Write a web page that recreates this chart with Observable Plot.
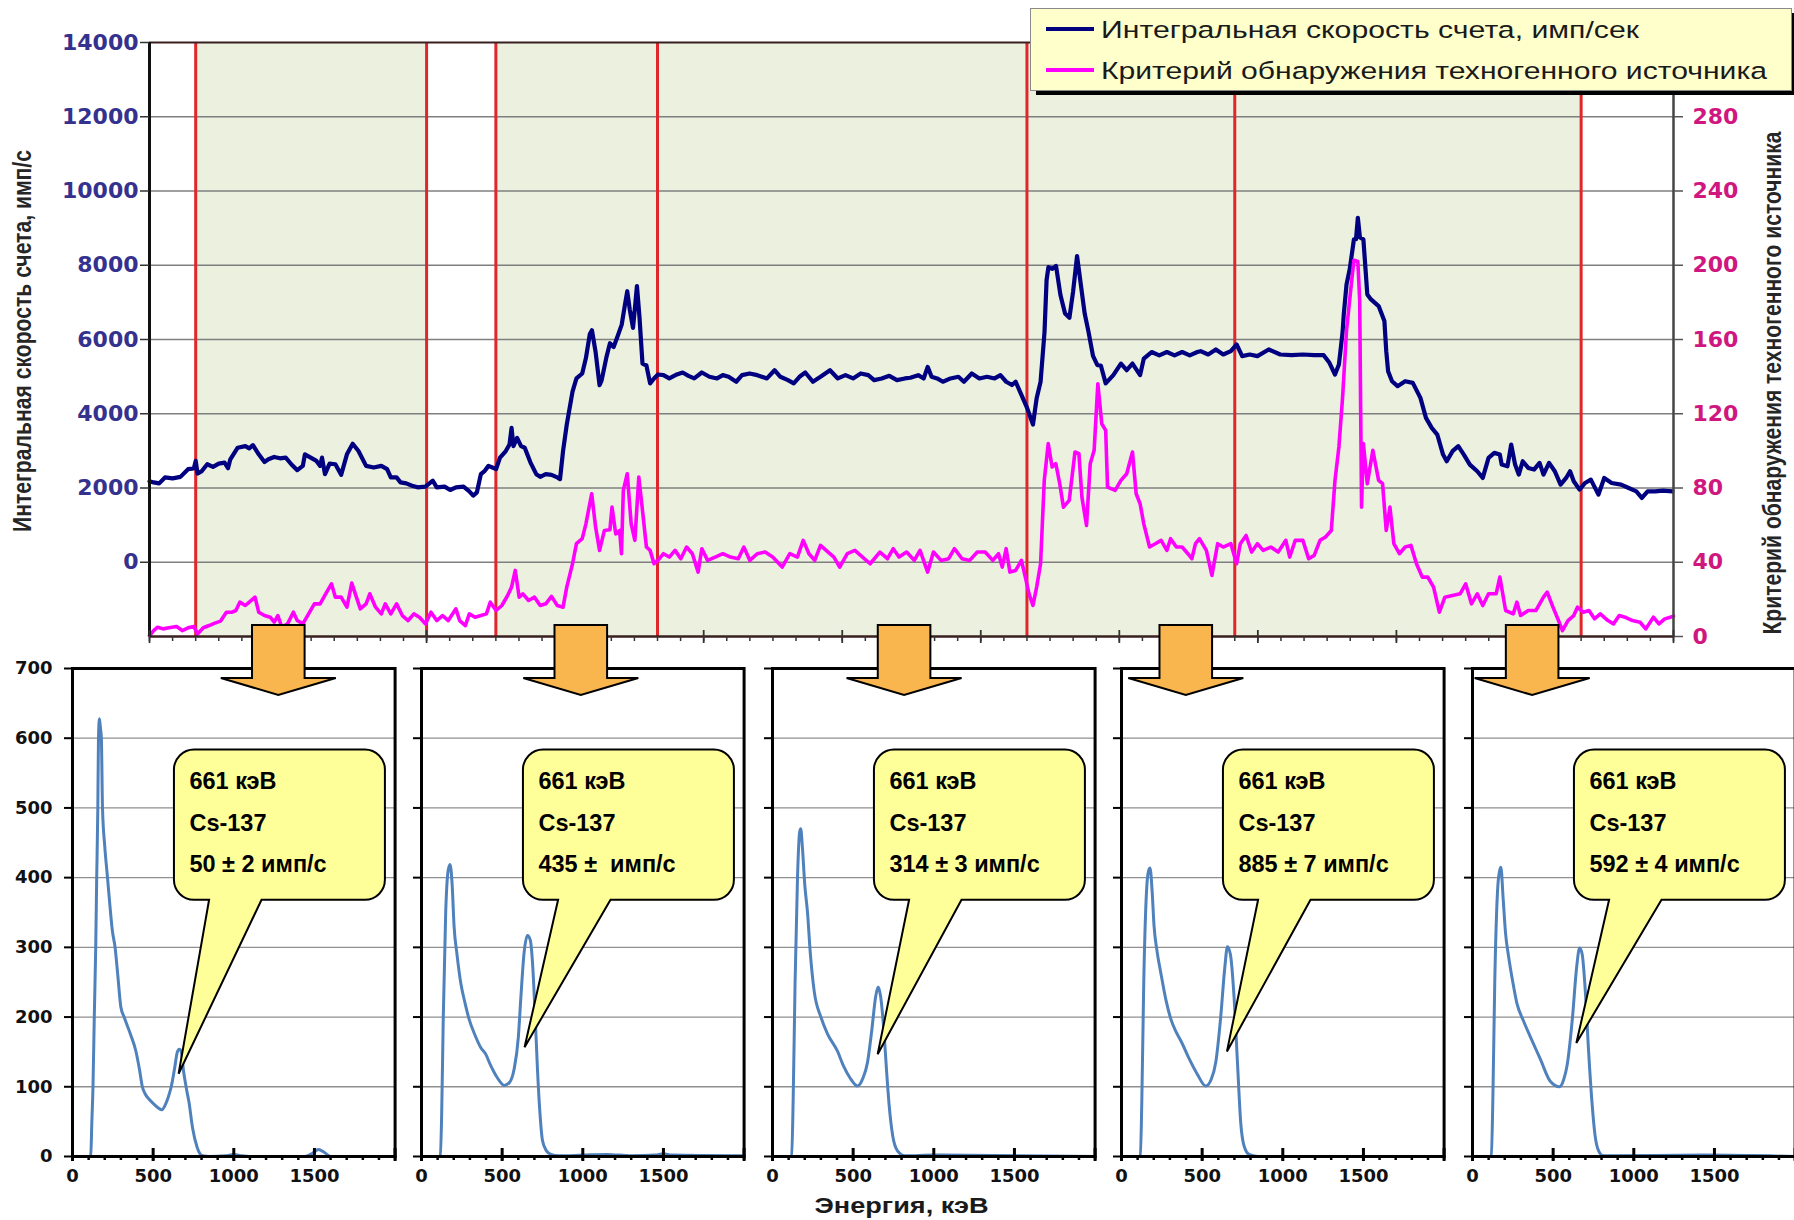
<!DOCTYPE html>
<html>
<head>
<meta charset="utf-8">
<script src="https://cdn.jsdelivr.net/npm/d3@7"></script>
<script src="https://cdn.jsdelivr.net/npm/@observablehq/plot@0.6"></script>
<style>
  html, body { margin: 0; padding: 0; background: #fff; }
  #chart { position: relative; width: 1794px; height: 1220px; overflow: hidden; }
  #chart > svg { position: absolute; }
</style>
</head>
<body>
<div id="chart"></div>
<script>
// ---- Survey time series: integral count rate (left axis) and detection criterion (right axis) ----
// [time, count rate, counts/s]
const countRate = [
[0,2180],[1.8,2150],[4.2,2125],[6.7,2285],[10,2258],[13.4,2300],[16.7,2507],[19.2,2525],[20,2730],[20.8,2390],[22.5,2445],[25,2640],[27.5,2570],[30,2658],[32.5,2684],[34,2533],[35,2773],[38.2,3085],[41.5,3129],[43.2,3067],[44.8,3155],[47.3,2907],[49.8,2702],[51.5,2773],[54,2836],[56.5,2800],[59,2818],[61.4,2640],[64,2480],[66.4,2596],[67.3,2907],[69.8,2818],[72.3,2729],[73.9,2596],[74.7,2818],[76,2373],[78,2658],[80.5,2640],[83,2355],[85.5,2907],[88,3191],[90.5,2996],[93.8,2596],[97.1,2551],[100.4,2596],[102.9,2507],[104.5,2285],[107,2285],[108.7,2151],[111.2,2125],[113.7,2062],[116.1,2018],[119.5,2036],[122.7,2196],[124.4,2018],[127.8,2036],[130.2,1947],[132.7,2018],[136,2036],[138.5,1911],[140.2,1796],[141.8,1884],[143.5,2373],[145.2,2462],[146.8,2596],[148.5,2551],[150.1,2507],[151.8,2818],[154.3,2996],[155.9,3173],[156.8,3618],[157.6,3129],[159.2,3351],[160.9,3129],[162.5,3085],[165,2684],[167.5,2373],[169.2,2302],[171.6,2373],[174.1,2355],[176.6,2285],[177.8,2240],[179.1,2996],[180.7,3707],[183.2,4596],[184.9,4951],[187.4,5085],[189,5500],[190.7,6150],[191.6,6250],[193.2,5660],[194.9,4770],[195.8,4900],[197.8,5500],[199.4,5900],[201,5800],[202.8,6100],[204.5,6400],[205.8,6900],[206.9,7300],[208,6800],[209.4,6314],[210.3,6900],[211.1,7440],[212.2,6600],[213.5,5351],[215.2,5300],[216.8,4818],[218.5,4951],[220.2,5058],[222.6,5040],[225.1,4951],[228.4,5058],[230.9,5111],[233.4,5022],[235.9,4951],[239.2,5111],[242.5,4996],[245.8,4951],[248.3,5040],[250.8,4996],[254.1,4862],[256.6,5040],[259.9,5085],[263.2,5040],[267.4,4951],[270.7,5173],[273.2,4996],[276.5,4907],[279,4818],[281.5,4996],[284,5111],[287.3,4862],[290.6,4996],[294.7,5173],[298.1,4951],[301.4,5040],[304.7,4951],[308,5085],[311.3,5040],[313.8,4907],[317.1,4951],[320.4,5022],[323.7,4907],[327.1,4951],[329.5,4969],[332.9,5040],[335.3,4951],[337,5262],[338.7,4996],[341.1,4951],[343.6,4862],[346.9,4951],[350.3,4996],[352.7,4862],[356.1,5085],[359.4,4951],[362.7,4996],[366,4951],[368.5,5040],[371,4862],[373.5,4773],[375.1,4862],[377.6,4507],[380.1,4151],[382.6,3707],[384.2,4418],[385.9,4862],[387.6,6200],[388.5,7600],[389.3,7950],[391,7900],[392.6,7980],[394.5,7200],[396.5,6700],[398.4,6584],[400,7300],[401.7,8247],[403.5,7400],[405,6700],[406.6,6226],[408.6,5560],[410.5,5307],[412,5300],[414.1,4818],[417.4,5040],[420.7,5351],[423.2,5173],[425.7,5351],[429,5040],[430.6,5484],[434,5662],[437.3,5573],[440.6,5662],[443.9,5573],[447.2,5662],[450.5,5573],[453.8,5662],[455.2,5686],[458.5,5596],[461.8,5731],[465,5596],[468.3,5686],[470.8,5866],[473.2,5551],[476.5,5596],[479.8,5551],[484.7,5731],[489.7,5596],[494.6,5578],[499.5,5596],[504.4,5578],[508.5,5578],[511,5371],[513.4,5056],[515.1,5326],[516.7,6200],[517.2,6677],[518.4,7484],[519.8,7900],[521.6,8697],[522.5,8700],[523.3,9279],[524.2,8750],[525.7,8697],[527.4,7214],[529,7080],[532.3,6900],[534.8,6496],[535.6,5686],[536.4,5147],[538.1,4877],[540.5,4743],[543.8,4877],[547.1,4832],[550.4,4428],[552.8,3889],[555.3,3619],[557.7,3440],[560.2,2901],[561.8,2721],[564.3,2991],[566.8,3126],[569.2,2901],[571.8,2631],[575,2451],[577.4,2271],[579.9,2811],[582.4,2946],[584.8,2901],[585.6,2631],[588.1,2586],[589.7,3171],[591.4,2631],[593,2361],[594.7,2721],[597.1,2541],[599.6,2496],[602,2676],[603.7,2361],[606.1,2676],[608.6,2451],[611.1,2091],[613.5,2271],[615.2,2451],[616.8,2181],[619.3,1956],[621.7,2136],[624.2,2226],[627.5,1822],[630,2271],[633.2,2136],[637.3,2091],[640.6,2001],[643.9,1911],[646.3,1731],[648.8,1911],[652.1,1911],[655.4,1929],[659.5,1911]
];

// [time, detection criterion]
const criterion = [
[0,0.5],[1.8,3.2],[3.5,5],[5.9,4.1],[8.4,4.7],[11.7,5.4],[14.2,3.2],[16.7,4.7],[19.2,5.4],[20.8,1.4],[23.3,4.7],[25.8,5.9],[28.3,7.2],[30.8,8.3],[33.3,13.1],[35.8,13.1],[37.4,14],[39.1,18.5],[41.5,16.7],[43.2,18.5],[45.7,21.2],[47.3,13.1],[49.8,11.3],[52.3,10.4],[54,7.7],[55.6,11.3],[57.3,5],[59.8,6.8],[62.3,13.1],[64,8.6],[66.4,6.8],[68.9,12.2],[71.4,17.6],[73.9,17.6],[76.3,23],[78.8,28.4],[80.5,21.2],[83,21.2],[85.5,15.8],[87.6,28.8],[89.6,21.2],[91.3,14.9],[93.8,17.6],[95.4,23],[97.9,15.8],[100.4,12.2],[102.1,17.6],[104.5,12.2],[107,17.6],[109.5,11.3],[112,8.6],[114.5,12.2],[116.9,10.4],[119.5,6.8],[121.9,13.1],[124.4,8.6],[126.9,11.3],[129.4,8.6],[132.7,14.9],[134.3,8.6],[136.8,5.9],[138.5,12.2],[141,10.4],[143.5,11.3],[145.9,12.2],[147.6,18.5],[150.1,14],[152.6,16.7],[155.1,22.1],[156.8,26.6],[158.4,35.6],[160.1,21.2],[161.7,23],[164.2,19.4],[166.7,21.2],[169.2,16.7],[171.6,17.6],[174.1,21.6],[176.6,16.7],[179.1,15.8],[180.7,26.6],[183.2,39.2],[184.9,50],[187.4,52.7],[189,60.7],[191.5,76.9],[193.2,58.9],[194.9,46.4],[197,57.1],[199.4,57.5],[200.3,69.7],[201.9,55.3],[203.6,57.1],[204.4,44.6],[205.2,78.7],[206.9,87.7],[208.6,60.7],[210.2,51.8],[211.9,85.9],[213.5,67.9],[215.2,48.2],[216.8,46.4],[218.5,39.2],[220.2,41],[222.6,44.6],[225.1,42.8],[227.6,46.4],[230.1,41.9],[232.6,48.2],[235.1,44.6],[237.6,34.7],[239.2,47.3],[241.7,41],[245,42.8],[248.3,44.6],[251.6,42.8],[255,41.9],[257.4,48.2],[260,41],[263.2,44.6],[266.6,45.5],[269.9,42.8],[274,37.4],[277.3,44.6],[280.6,42.8],[283.1,51.8],[285.6,44.6],[288.1,41],[290.6,49.1],[293.9,45.5],[296.4,42.8],[298.9,37.4],[302.2,44.6],[305.5,46.4],[308.8,42.8],[312.1,39.2],[316.3,45.5],[319.6,41.9],[322.1,47.3],[324.6,42.8],[327.9,45.5],[331.2,41],[333.7,46.4],[337,34.7],[339.5,45.5],[342.8,41],[346.1,41.9],[348.6,47.3],[351.9,41.9],[355.2,41],[358.5,45.5],[361.9,45.5],[365.2,41],[367.7,44.6],[369.3,37.4],[371,47.3],[372.6,34.7],[375.1,35.6],[377.6,41],[379.3,32],[380.9,23],[382.6,16.7],[384.2,26.6],[385.9,39.2],[387.5,84.1],[389.2,103.9],[390.9,91.3],[392.5,93.1],[394.2,82.3],[395.8,69.7],[398.3,73.3],[400.8,99.4],[402.5,98.5],[403.8,75.1],[405.8,59.8],[407.4,93.1],[409.1,100.3],[410.7,136.2],[412.4,114.6],[414.1,111],[414.9,80.5],[418.2,78.7],[420.7,84.1],[423.2,87.7],[425.7,99.4],[427.3,76.9],[429,71.5],[430.6,60.7],[433.1,48.2],[435.6,50],[438.1,51.8],[440.6,46.4],[442.2,52.7],[444.7,48.2],[447.2,48.2],[449.7,44.6],[451.4,41.9],[453,50],[454.7,52.7],[457.7,46.4],[460.1,32.9],[462.6,50],[465,48.2],[468.3,50],[470.8,39.2],[472.4,50],[474.9,54.4],[477.3,45.5],[479.8,50],[482.3,46.4],[485.6,48.2],[488.8,45.5],[492.1,51.8],[493.8,42.8],[496.2,51.8],[499.5,51.8],[502,41.9],[504.4,43.7],[506.9,51.8],[509.3,53.6],[511.8,57.1],[513.4,84.1],[515.1,102.1],[516.7,129],[518.4,165],[520.8,193.7],[521.6,202.7],[523.3,202],[524.1,181],[524.9,69.7],[525.7,103.9],[527.4,82.3],[529.8,100.3],[532.3,84.1],[534,82.3],[535.6,57.1],[537.2,69.7],[538.9,50],[541.3,44.6],[543.8,48.2],[546.3,49.1],[548.7,39.2],[551.2,32],[553.6,32],[556.1,26.6],[558.6,13.1],[561,21.2],[564.3,22.1],[567.6,23],[570,28.4],[572.5,17.6],[575,23],[577.4,16.7],[579.9,23],[583.2,23],[584.8,32],[587.3,14],[590.6,12.2],[592.2,18.5],[593.8,11.3],[597.1,14],[600.4,14],[603.7,21.2],[605.3,23.9],[607.8,15.8],[610.2,8.6],[611.9,3.2],[614.3,8.6],[616.8,11.3],[618.4,15.8],[620.9,13.1],[623.4,14],[625.8,9.5],[628.3,12.2],[631.6,8.6],[634,6.8],[636.5,11.3],[639,10.4],[642.2,8.6],[645.5,7.7],[648,4.1],[651.3,10.4],[653.7,6.8],[656.2,9.5],[658.6,10.4],[660,11]
];

// Survey segments (shaded), segment boundaries and the spectra taken within them
const shadedZones = [[20, 120], [150, 620]];
const segmentBounds = [20, 120, 150, 220, 380, 470, 620];
const spectrumTimes = [56, 187, 327, 449, 599];
const leftTicks = d3.range(0, 14001, 2000);
const rightTicks = d3.range(0, 281, 40);

// ---- Gamma spectra [energy keV, counts] ----
const spectrum1 = [[0,0],[60,0],[100,0],[113,1],[120,50],[127,100],[135,200],[144,300],[150,400],[157,500],[161,600],[167,628],[173,615],[179,600],[186,500],[200,445],[217,400],[232,360],[247,324],[264,300],[280,262],[300,214],[320,200],[360,175],[392,152],[415,125],[433,100],[450,90],[475,82],[505,75],[530,70],[554,67],[575,74],[595,86],[612,100],[632,125],[650,150],[662,154],[672,152],[690,120],[708,95],[722,78],[745,40],[773,13],[806,1],[850,0],[950,1],[1000,3],[1050,1],[1100,0],[1440,0],[1490,5],[1525,10],[1560,6],[1600,0],[2000,0]];
const spectrum2 = [[0,0],[100,0],[117,1],[125,60],[135,200],[150,350],[165,410],[177,419],[190,390],[202,330],[220,290],[244,248],[270,220],[295,197],[330,175],[368,156],[395,148],[430,130],[470,113],[512,102],[545,106],[574,125],[600,170],[616,228],[635,290],[657,317],[675,310],[688,279],[705,200],[719,125],[735,60],[750,23],[775,8],[802,3],[850,1],[1000,2],[1150,3],[1300,1],[1450,2],[1500,4],[1550,2],[2000,1]];
const spectrum3 = [[0,0],[100,0],[119,1],[128,80],[140,250],[155,400],[168,465],[175,470],[185,445],[200,390],[217,350],[235,290],[258,238],[300,200],[341,176],[403,151],[440,130],[480,113],[527,101],[560,112],[589,135],[615,180],[640,230],[655,243],[670,230],[692,176],[708,120],[723,74],[745,30],[775,8],[820,1],[1000,2],[2000,0]];
const spectrum4 = [[0,0],[100,0],[117,1],[126,80],[138,250],[155,380],[168,410],[177,414],[190,380],[202,330],[220,295],[244,263],[275,225],[306,197],[340,178],[368,166],[420,140],[470,118],[523,101],[555,110],[585,136],[615,200],[640,270],[657,301],[675,290],[698,228],[720,130],[739,49],[760,15],[791,3],[850,0],[2000,0]];
const spectrum5 = [[0,0],[100,0],[117,1],[126,80],[138,250],[155,380],[168,410],[176,415],[190,370],[205,320],[223,288],[250,250],[275,220],[315,195],[358,172],[420,140],[482,108],[540,100],[565,110],[586,130],[620,200],[645,270],[664,299],[680,290],[700,235],[720,150],[741,77],[760,30],[782,8],[810,1],[1450,2],[2000,0]];
const spectra = [spectrum1, spectrum2, spectrum3, spectrum4, spectrum5];

// Cs-137 line annotations: the point each callout targets and its count-rate text
const calloutTips = [[661, 118], [642, 156], [655, 146], [657, 150], [647, 162]];
const calloutRates = ["50 ± 2 имп/с", "435 ±  имп/с", "314 ± 3 имп/с", "885 ± 7 имп/с", "592 ± 4 имп/с"];
const calloutLines = ["661 кэВ", "Cs-137"];

const energyTicks = d3.range(0, 2001, 100);
const energyMajor = d3.range(0, 2001, 500);
const energyLabels = [0, 500, 1000, 1500];
const countTicks = d3.range(0, 701, 100);

const chart = d3.select("#chart");
const NAVY = "#000080", PINK = "#ff00ff", BLUE = "#4f81bd";
const plain = d => String(d);

// ---- Spectrum panels ----
const panelLefts = [71.5, 421, 771.5, 1121, 1472];
const panelWidth = 322.6;
const PM = {left: 72, right: 12, top: 28, bottom: 64};

function callout(k) {
  return (index, {x, y}) => {
    const g = d3.create("svg:g");
    const bx1 = x(632), bx2 = x(1940), by1 = y(583), by2 = y(367.5);
    const t1 = x(850), t2 = x(1175);
    const tx = x(calloutTips[k][0]), ty = y(calloutTips[k][1]);
    const r = 20;
    g.append("path")
      .attr("d", `M${bx1 + r},${by1}H${bx2 - r}A${r},${r} 0 0 1 ${bx2},${by1 + r}V${by2 - r}A${r},${r} 0 0 1 ${bx2 - r},${by2}H${t2}L${tx},${ty}L${t1},${by2}H${bx1 + r}A${r},${r} 0 0 1 ${bx1},${by2 - r}V${by1 + r}A${r},${r} 0 0 1 ${bx1 + r},${by1}Z`)
      .attr("fill", "#ffff99").attr("stroke", "#000").attr("stroke-width", 2).attr("stroke-linejoin", "miter");
    const lines = [...calloutLines, calloutRates[k]];
    lines.forEach((s, j) => {
      g.append("text").attr("x", bx1 + 15.5).attr("y", by1 + 39.5 + j * 41.5)
        .attr("text-anchor", "start")
        .attr("font-family", "'Liberation Sans', Arial, sans-serif").attr("font-weight", "bold")
        .attr("font-size", 23.5).attr("fill", "#000").text(s);
    });
    return g.node();
  };
}

spectra.forEach((spec, k) => {
  const p = Plot.plot({
    width: PM.left + panelWidth + PM.right, height: 580,
    marginLeft: PM.left, marginRight: PM.right, marginTop: PM.top, marginBottom: PM.bottom,
    x: {domain: [0, 2000]},
    y: {domain: [0, 700]},
    style: {background: "transparent", fontFamily: "'DejaVu Sans', sans-serif", fontWeight: "bold", fontSize: "18px", color: "#111"},
    marks: [
      Plot.ruleY(d3.range(100, 601, 100), {stroke: "#8f8f8f", strokeWidth: 1.3}),
      Plot.line(spec, {x: d => d[0], y: d => d[1], stroke: BLUE, strokeWidth: 3, curve: "monotone-x"}),
      callout(k),
      Plot.frame({stroke: "#000", strokeWidth: 3}),
      Plot.axisY(countTicks, {anchor: "left", tickSize: 8, tickPadding: 12, strokeWidth: 2, stroke: "#000", fill: "#111",
        tickFormat: k === 0 ? plain : () => "", label: null}),
      Plot.axisX(energyTicks, {anchor: "bottom", tickSize: 4, strokeWidth: 2.5, stroke: "#000", tickFormat: () => "", label: null}),
      Plot.axisX(energyMajor, {anchor: "bottom", tickSize: 13, dy: -8, strokeWidth: 3, stroke: "#000", tickFormat: () => "", label: null}),
      Plot.axisX(energyLabels, {anchor: "bottom", tickSize: 0, tickPadding: 13, fill: "#111", tickFormat: plain, label: null})
    ]
  });
  d3.select(p).style("left", `${panelLefts[k] - PM.left}px`).style("top", "640px");
  chart.node().appendChild(p);
});

// ---- Survey chart with dual axes ----
const toLeft = p => -2000 + p * 50;   // criterion axis 0..320 shares the frame with -2000..14000

const arrows = (index, {x}, values, dims) => {
  const g = d3.create("svg:g");
  const base = dims.height - dims.marginBottom;
  spectrumTimes.forEach(t => {
    const c = x(t);
    const sw = 26.3, hw = 57.5, top = base - 11, neck = base + 42, tip = base + 59;
    g.append("path")
      .attr("d", `M${c - sw},${top}H${c + sw}V${neck}H${c + hw}L${c},${tip}L${c - hw},${neck}H${c - sw}Z`)
      .attr("fill", "#f9b54e").attr("stroke", "#000").attr("stroke-width", 2).attr("stroke-linejoin", "miter");
  });
  return g.node();
};

const topPlot = Plot.plot({
  width: 1794, height: 720,
  marginLeft: 149, marginRight: 121, marginTop: 42, marginBottom: 84,
  x: {domain: [0, 660]},
  y: {domain: [-2000, 14000]},
  style: {background: "transparent", fontFamily: "'DejaVu Sans', sans-serif", fontWeight: "bold", fontSize: "22px"},
  marks: [
    Plot.rect(shadedZones, {x1: d => d[0], x2: d => d[1], y1: () => -2000, y2: () => 14000, fill: "#ebf1de"}),
    Plot.ruleY(d3.range(0, 12001, 2000), {stroke: "#7f7f7f", strokeWidth: 1.3}),
    Plot.ruleX(segmentBounds, {stroke: "#e0262a", strokeWidth: 3}),
    Plot.line(countRate, {x: d => d[0], y: d => d[1], stroke: NAVY, strokeWidth: 4.2, strokeLinejoin: "round"}),
    Plot.line(criterion, {x: d => d[0], y: d => toLeft(d[1]), stroke: PINK, strokeWidth: 3.6, strokeLinejoin: "round"}),
    Plot.ruleY([14000], {stroke: "#3a1f1f", strokeWidth: 2}),
    Plot.ruleY([-2000], {stroke: "#3a1f1f", strokeWidth: 2.5}),
    Plot.ruleX([0], {stroke: "#111", strokeWidth: 3}),
    Plot.ruleX([660], {stroke: "#444", strokeWidth: 2.5}),
    Plot.axisY(leftTicks, {anchor: "left", tickSize: 9, tickPadding: 2, stroke: "#333", strokeWidth: 1.5, fill: "#35318e",
      tickFormat: plain, label: null}),
    Plot.axisY(rightTicks.map(toLeft), {anchor: "right", tickSize: 9, tickPadding: 10, stroke: "#555", strokeWidth: 1.5, fill: "#d0177f",
      tickFormat: d => String((d + 2000) / 50), label: null}),
    Plot.axisX(d3.range(0, 661, 10), {anchor: "bottom", tickSize: 5, stroke: "#333", strokeWidth: 1.5, tickFormat: () => "", label: null}),
    Plot.axisX(d3.range(0, 661, 60), {anchor: "bottom", tickSize: 13, dy: -6, stroke: "#333", strokeWidth: 1.8, tickFormat: () => "", label: null}),
    arrows
  ]
});
d3.select(topPlot).style("left", "0px").style("top", "0px");
chart.node().appendChild(topPlot);

// ---- Axis titles and legend ----
const ov = chart.append("svg").attr("width", 1794).attr("height", 1220)
  .style("left", "0px").style("top", "0px").style("pointer-events", "none");

const titleFont = "'Liberation Sans Narrow', 'Liberation Sans', Arial, sans-serif";
ov.append("text").attr("transform", "translate(31,341) rotate(-90)")
  .attr("text-anchor", "middle").attr("font-family", titleFont).attr("font-weight", "bold").attr("font-size", 25)
  .attr("fill", "#262626").attr("textLength", 382).attr("lengthAdjust", "spacingAndGlyphs")
  .text("Интегральная скорость счета, имп/с");
ov.append("text").attr("transform", "translate(1781,383) rotate(-90)")
  .attr("text-anchor", "middle").attr("font-family", titleFont).attr("font-weight", "bold").attr("font-size", 25)
  .attr("fill", "#262626").attr("textLength", 503).attr("lengthAdjust", "spacingAndGlyphs")
  .text("Критерий обнаружения техногенного источника");
ov.append("text").attr("x", 901.5).attr("y", 1213)
  .attr("text-anchor", "middle").attr("font-family", "'Liberation Sans', Arial, sans-serif").attr("font-weight", "bold").attr("font-size", 22)
  .attr("fill", "#1a1a1a").attr("textLength", 174).attr("lengthAdjust", "spacingAndGlyphs")
  .text("Энергия, кэВ");

const legendItems = [
  {label: "Интегральная скорость счета, имп/сек", color: NAVY, len: 538},
  {label: "Критерий обнаружения техногенного источника", color: PINK, len: 666}
];
const lg = ov.append("g");
lg.append("rect").attr("x", 1036).attr("y", 13).attr("width", 761).attr("height", 82).attr("fill", "#000");
lg.append("rect").attr("x", 1030.5).attr("y", 8.5).attr("width", 761).attr("height", 82)
  .attr("fill", "#ffffcc").attr("stroke", "#8a8a8a").attr("stroke-width", 1);
legendItems.forEach((d, j) => {
  const cy = 29 + j * 41;
  lg.append("line").attr("x1", 1046).attr("x2", 1094).attr("y1", cy).attr("y2", cy)
    .attr("stroke", d.color).attr("stroke-width", 4);
  lg.append("text").attr("x", 1101).attr("y", cy + 9)
    .attr("font-family", "'Liberation Sans', Arial, sans-serif").attr("font-size", 24.5).attr("fill", "#1a1a1a")
    .attr("textLength", d.len).attr("lengthAdjust", "spacingAndGlyphs").text(d.label);
});
</script>
</body>
</html>
